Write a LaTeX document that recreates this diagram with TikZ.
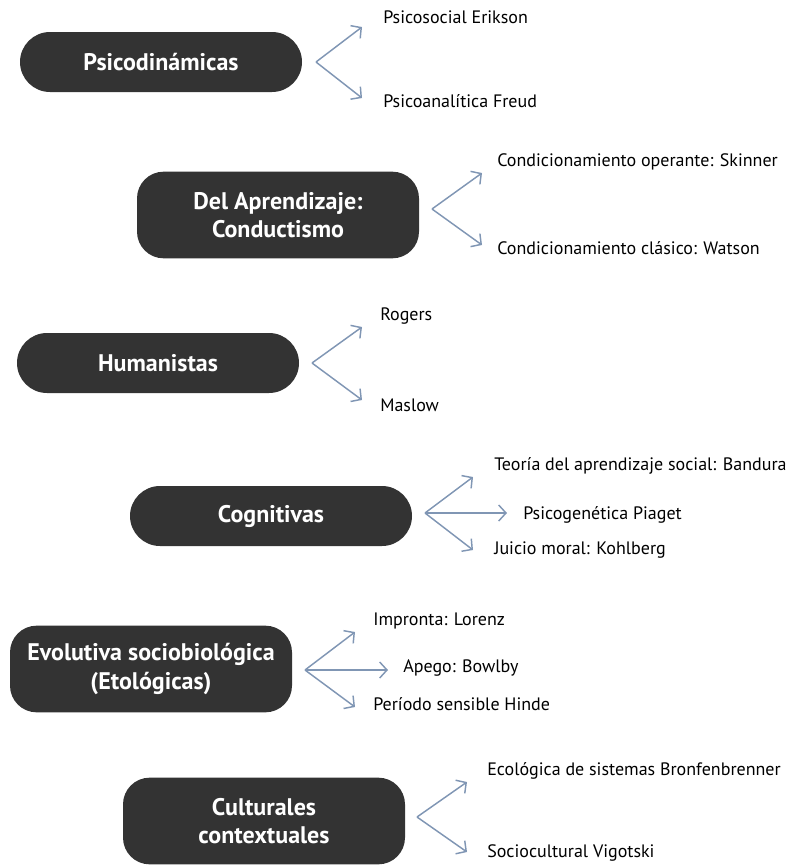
\documentclass[tikz,border=0pt]{standalone}
\usepackage{fontspec}
\setmainfont{PT Sans}
\usetikzlibrary{arrows.meta}
\definecolor{boxfill}{HTML}{333333}
\definecolor{arrowcol}{HTML}{8096B4}
\tikzset{
  theory/.style={draw=none, fill=boxfill, text=white, font=\bfseries\fontsize{18}{21.5}\selectfont,
    align=center, minimum width=211.5pt, inner sep=0pt},
  pill/.style={theory, minimum height=45pt, rounded corners=22.5pt},
  tallbox/.style={theory, minimum height=65pt, rounded corners=20pt},
  author/.style={anchor=west, inner sep=0pt, font=\fontsize{13.5}{16}\selectfont, text=black},
  branch/.style={draw=arrowcol, line width=1.1pt, -{Straight Barb[length=5.5pt,width=12pt,line width=1.1pt]}}
}
\begin{document}
\begin{tikzpicture}[x=0.75pt, y=-0.75pt]
\useasboundingbox (0,0) rectangle (794,865);

% Psicodinámicas
\node[pill] (psico) at (161,62) {Psicodinámicas};
\coordinate (psicoA) at (316,62);
\coordinate (psicoT1) at (362,27);
\coordinate (psicoT2) at (362,98);
\node[author] (erikson) at (383,17) {Psicosocial Erikson};
\node[author] (freud) at (383,101) {Psicoanalítica Freud};
\draw[branch] (psicoA) -- (psicoT1);
\draw[branch] (psicoA) -- (psicoT2);

% Del Aprendizaje: Conductismo
\node[tallbox] (aprend) at (278,215) {Del Aprendizaje:\\Conductismo};
\coordinate (aprendA) at (432,209);
\coordinate (aprendT1) at (482,173);
\coordinate (aprendT2) at (482,245);
\node[author] (skinner) at (497,162) {Condicionamiento operante: Skinner};
\node[author] (watson) at (497,248) {Condicionamiento clásico: Watson};
\draw[branch] (aprendA) -- (aprendT1);
\draw[branch] (aprendA) -- (aprendT2);

% Humanistas
\node[pill] (human) at (158,363) {Humanistas};
\coordinate (humanA) at (312,363);
\coordinate (humanT1) at (362,327);
\coordinate (humanT2) at (362,400);
\node[author] (rogers) at (380,316) {Rogers};
\node[author] (maslow) at (380,405) {Maslow};
\draw[branch] (humanA) -- (humanT1);
\draw[branch] (humanA) -- (humanT2);

% Cognitivas
\node[pill] (cogn) at (271,516) {Cognitivas};
\coordinate (cognA) at (425,513);
\coordinate (cognT1) at (473,477);
\coordinate (cognT2) at (507,513);
\coordinate (cognT3) at (473,550);
\node[author] (bandura) at (494,466) {Teoría del aprendizaje social: Bandura};
\node[author] (piaget) at (523,515) {Psicogenética Piaget};
\node[author] (kohlberg) at (494,550) {Juicio moral: Kohlberg};
\draw[branch] (cognA) -- (cognT1);
\draw[branch] (cognA) -- (cognT2);
\draw[branch] (cognA) -- (cognT3);

% Evolutiva sociobiológica
\node[tallbox] (evol) at (151,669) {Evolutiva sociobiológica\\(Etológicas)};
\coordinate (evolA) at (305,670);
\coordinate (evolT1) at (355,632);
\coordinate (evolT2) at (388,670);
\coordinate (evolT3) at (355,707);
\node[author] (lorenz) at (373,621) {Impronta: Lorenz};
\node[author] (bowlby) at (403,668) {Apego: Bowlby};
\node[author] (hinde) at (373,704) {Período sensible Hinde};
\draw[branch] (evolA) -- (evolT1);
\draw[branch] (evolA) -- (evolT2);
\draw[branch] (evolA) -- (evolT3);

% Culturales contextuales
\node[tallbox] (cult) at (264,821) {Culturales\\contextuales};
\coordinate (cultA) at (417,817);
\coordinate (cultT1) at (467,782);
\coordinate (cultT2) at (467,852);
\node[author] (bronf) at (487,771) {Ecológica de sistemas Bronfenbrenner};
\node[author] (vigot) at (487,853) {Sociocultural Vigotski};
\draw[branch] (cultA) -- (cultT1);
\draw[branch] (cultA) -- (cultT2);
\end{tikzpicture}
\end{document}
